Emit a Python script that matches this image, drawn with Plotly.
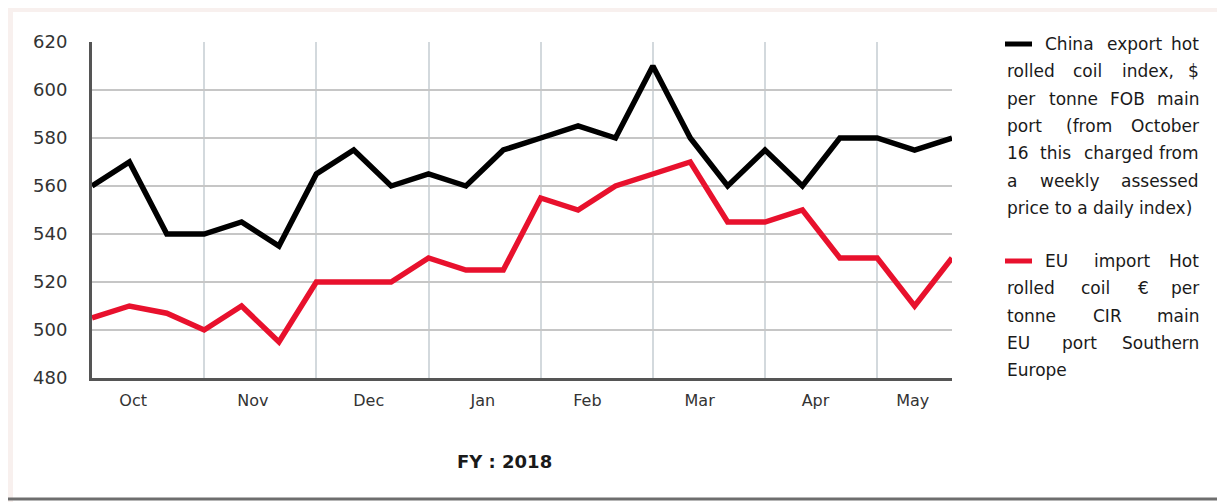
import plotly.graph_objects as go

# weekly points, Oct 2017 - May 2018
week_idx = list(range(24))
china_hrc = [560, 570, 540, 540, 545, 535, 565, 575, 560, 565, 560, 575,
             580, 585, 580, 610, 580, 560, 575, 560, 580, 580, 575, 580]
eu_hrc = [505, 510, 507, 500, 510, 495, 520, 520, 520, 530, 525, 525,
          555, 550, 560, 565, 570, 545, 545, 550, 530, 530, 510, 530]

month_labels = ['Oct', 'Nov', 'Dec', 'Jan', 'Feb', 'Mar', 'Apr', 'May']
month_pos = [1.1, 4.3, 7.4, 10.45, 13.25, 16.25, 19.35, 21.95]

china_name = ['China export hot', 'rolled coil index, $', 'per tonne FOB main',
              'port (from October', '16 this charged from', 'a weekly assessed',
              'price to a daily index)']
eu_name = ['EU import Hot', 'rolled coil \u20ac per', 'tonne CIR main',
           'EU port Southern', 'Europe']

# page puts the figure 8px in from the corner, so work in screen pixels and shift
OFF = 8
W, H = 1225 - OFF, 502 - OFF
L, R, T, B = 92, 952, 42, 378   # plot area, screen pixels

def px(x):
    return (x - L) / (R - L)

def py(y):
    return (B - y) / (B - T)

FONT = 'DejaVu Sans'
LEG_SIZE = 17

# rough DejaVu Sans advance widths (em), only used to justify the legend lines
narrow = {'i': .278, 'l': .278, 'j': .278, 't': .392, 'r': .411, 'f': .352, ',': .318,
          '(': .39, ')': .39, '$': .636, 'm': .974, 'w': .818, 'I': .295}
def text_w(s):
    w = 0
    for c in s:
        if c in narrow:
            w += narrow[c]
        elif c.isupper():
            w += .72
        elif c.isdigit():
            w += .636
        else:
            w += .6
    return w * LEG_SIZE

fig = go.Figure()
fig.add_trace(go.Scatter(x=week_idx, y=china_hrc, mode='lines',
                         line=dict(color='#000000', width=5.5), showlegend=False))
fig.add_trace(go.Scatter(x=week_idx, y=eu_hrc, mode='lines',
                         line=dict(color='#e8112d', width=5.5), showlegend=False))

# hand made legend: justified text column on the right
ann = []
shapes = []
groups = [(china_name, '#000000', 44), (eu_name, '#e8112d', 261)]
right_edge = 1201
leg_font = dict(family=FONT, size=LEG_SIZE, color='#1a1a1a')
for lines, col, y0 in groups:
    shapes.append(dict(type='line', xref='paper', yref='paper',
                       x0=px(1005), x1=px(1032), y0=py(y0), y1=py(y0),
                       line=dict(color=col, width=5)))
    for i, txt in enumerate(lines):
        left = 1043 if i == 0 else 1005
        y = py(y0 + i * 27.3)
        words = txt.split(' ')
        last = i == len(lines) - 1
        if last or len(words) == 1:
            ann.append(dict(text=txt, xref='paper', yref='paper', x=px(left), y=y,
                            xanchor='left', yanchor='middle', showarrow=False, font=leg_font))
            continue
        widths = [text_w(w) for w in words]
        gap = (right_edge - left - sum(widths)) / (len(words) - 1)
        x = left
        for j, w in enumerate(words):
            if j == len(words) - 1:
                ann.append(dict(text=w, xref='paper', yref='paper', x=px(right_edge), y=y,
                                xanchor='right', yanchor='middle', showarrow=False, font=leg_font))
            else:
                ann.append(dict(text=w, xref='paper', yref='paper', x=px(x), y=y,
                                xanchor='left', yanchor='middle', showarrow=False, font=leg_font))
            x += widths[j] + gap

ann.append(dict(text='<b>FY : 2018</b>', xref='paper', yref='paper', x=px(504), y=py(461),
                xanchor='center', yanchor='middle', showarrow=False,
                font=dict(family=FONT, size=18, color='#1a1a1a')))

# outer frame: faint tinted edges, dark rule along the bottom
tint = '#f8f0ee'
shapes.append(dict(type='rect', xref='paper', yref='paper', x0=px(OFF), x1=px(OFF + 5),
                   y0=py(502), y1=py(OFF), fillcolor=tint, line_width=0, layer='below'))
shapes.append(dict(type='rect', xref='paper', yref='paper', x0=px(1220), x1=px(1225),
                   y0=py(502), y1=py(OFF), fillcolor=tint, line_width=0, layer='below'))
shapes.append(dict(type='rect', xref='paper', yref='paper', x0=px(OFF), x1=px(1225),
                   y0=py(OFF + 4), y1=py(OFF), fillcolor=tint, line_width=0, layer='below'))
shapes.append(dict(type='line', xref='paper', yref='paper', x0=px(OFF), x1=px(1225),
                   y0=py(499), y1=py(499), line=dict(color='#6e6e6e', width=3)))

fig.update_layout(
    width=W, height=H,
    margin=dict(l=L - OFF, r=1225 - R, t=T - OFF, b=502 - B),
    paper_bgcolor='white', plot_bgcolor='white',
    font=dict(family=FONT, color='#333333'),
    annotations=ann, shapes=shapes,
)
fig.update_xaxes(range=[0, 23], tickmode='array', tickvals=month_pos, ticktext=month_labels,
                 showgrid=False, ticks='', tickfont=dict(size=16), ticklabelstandoff=6,
                 showline=True, linecolor='#555555', linewidth=3,
                 minor=dict(tickmode='linear', tick0=0, dtick=3, showgrid=True,
                            gridcolor='#d3d9dd', gridwidth=2),
                 zeroline=False, fixedrange=True)
fig.update_yaxes(range=[480, 620], tickmode='linear', tick0=480, dtick=20,
                 showgrid=True, gridcolor='#c6c6c6', gridwidth=2, ticks='',
                 tickfont=dict(size=18), ticklabelstandoff=18,
                 showline=True, linecolor='#555555', linewidth=3,
                 zeroline=False, fixedrange=True)

fig.write_html('out.html')
